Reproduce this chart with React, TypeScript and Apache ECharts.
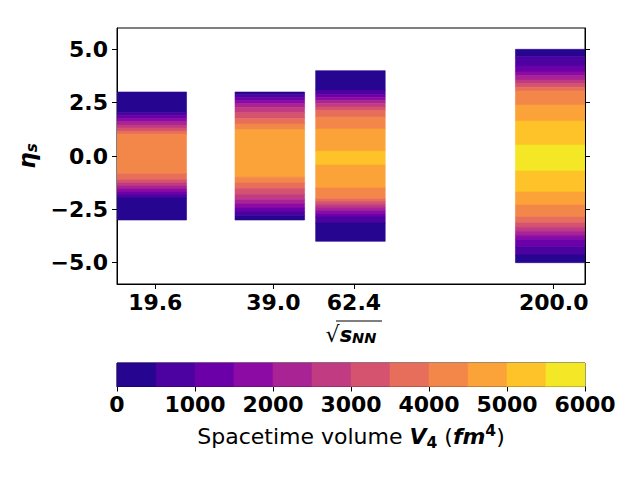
import React, { useEffect, useRef } from "react";
import * as echarts from "echarts";

// Collision energies (GeV) and their tick labels
const energies = [19.6, 39.0, 62.4, 200.0];
const energyLabels = ["19.6", "39.0", "62.4", "200.0"];

// eta_s tick values
const etaTicks = [-5, -2.5, 0, 2.5, 5];

// Colour levels of V4 (fm^4)
const v4Edges = [0, 500, 1000, 1500, 2000, 2500, 3000, 3500, 4000, 4500, 5000, 5500, 6000];
const v4Ticks = [0, 1000, 2000, 3000, 4000, 5000, 6000];
const plasmaColors = [
  "#260591", "#4c02a1", "#6c00a8", "#8d0ba5", "#a92395", "#c13b82",
  "#d5536f", "#e76e5b", "#f3874a", "#fba338", "#fdc328", "#f4e826",
];

// Band edges in eta_s (top to bottom) and the V4 level index of each band
const edges19 = [3.0, 2.03, 1.89, 1.75, 1.61, 1.45, 1.31, 1.17, 1.03, -0.84, -1.12, -1.27, -1.41, -1.55, -1.69, -1.83, -1.97, -3.0];
const levels19 = [0, 1, 2, 3, 4, 5, 6, 7, 8, 7, 6, 5, 4, 3, 2, 1, 0];

const edges39 = [3.0, 2.87, 2.74, 2.6, 2.45, 2.28, 2.03, 1.76, 1.5, 1.23, -1.0, -1.27, -1.52, -1.8, -2.05, -2.25, -2.44, -2.62, -2.8, -3.0];
const levels39 = [0, 1, 2, 3, 4, 5, 6, 7, 8, 9, 8, 7, 6, 5, 4, 3, 2, 1, 0];

const edges62 = [4.0, 3.09, 2.88, 2.75, 2.61, 2.47, 2.3, 2.13, 1.83, 1.27, 0.23, -0.42, -1.5, -2.0, -2.13, -2.27, -2.41, -2.56, -2.7, -2.86, -3.14, -4.0];
const levels62 = [0, 1, 2, 3, 4, 5, 6, 7, 8, 9, 10, 9, 8, 7, 6, 5, 4, 3, 2, 1, 0];

const edges200 = [5.0, 4.65, 4.22, 3.94, 3.76, 3.56, 3.39, 3.22, 3.05, 2.39, 1.64, 0.52, -0.7, -1.69, -2.3, -2.85, -3.13, -3.34, -3.53, -3.72, -3.9, -4.25, -4.64, -5.0];
const levels200 = [0, 1, 2, 3, 4, 5, 6, 7, 8, 9, 10, 11, 10, 9, 8, 7, 6, 5, 4, 3, 2, 1, 0];

const columns = [
  { e: energies[0], edges: edges19, levels: levels19 },
  { e: energies[1], edges: edges39, levels: levels39 },
  { e: energies[2], edges: edges62, levels: levels62 },
  { e: energies[3], edges: edges200, levels: levels200 },
];

const LO = 0.8;
const HI = 1.2;
const FONT = "DejaVu Sans";
const lg = (v: number) => Math.log10(v);

export default function App() {
  const ref = useRef<HTMLDivElement>(null);
  useEffect(() => {
    if (!ref.current) return;
    const chart = echarts.init(ref.current, null, { renderer: "svg" });

    const bandData: number[][] = [];
    columns.forEach((c) => {
      c.levels.forEach((lv, i) => {
        bandData.push([lg(c.e * LO), lg(c.e * HI), c.edges[i], c.edges[i + 1], lv]);
      });
    });
    const cbData: number[][] = [];
    for (let i = 0; i < v4Edges.length - 1; i++) cbData.push([v4Edges[i], v4Edges[i + 1], i]);

    const rectItem = (params: any, api: any) => {
      const a = api.coord([api.value(0), api.value(2)]);
      const b = api.coord([api.value(1), api.value(3)]);
      const color = plasmaColors[api.value(4)];
      return {
        type: "rect",
        shape: { x: a[0], y: a[1], width: b[0] - a[0], height: b[1] - a[1] },
        style: { fill: color, stroke: color, lineWidth: 0.6 },
      };
    };

    const tickLabel = { fontFamily: FONT, fontSize: 22, fontWeight: "bold", color: "#000" };
    const axisLine = { show: true, onZero: false, lineStyle: { color: "#000", width: 1 } };

    const energyLogs = energies.map(lg);
    const fmtEnergy = (v: number) => {
      let best = 0;
      energyLogs.forEach((l, i) => {
        if (Math.abs(l - v) < Math.abs(energyLogs[best] - v)) best = i;
      });
      return energyLabels[best];
    };
    const fmtEta = (v: number) => (v < 0 ? "\u2212" : "") + Math.abs(v).toFixed(1);

    chart.setOption({
      animation: false,
      backgroundColor: "#fff",
      grid: [
        { left: 117, top: 28, width: 468, height: 256, show: true, borderColor: "#000", borderWidth: 1, backgroundColor: "transparent" },
        { left: 117, top: 363, width: 468, height: 23.5, show: true, borderColor: "#000", borderWidth: 1, backgroundColor: "transparent" },
      ],
      xAxis: [
        {
          type: "value",
          gridIndex: 0,
          min: lg(energies[0] * LO),
          max: lg(energies[energies.length - 1] * HI),
          axisLine,
          splitLine: { show: false },
          axisTick: { show: true, customValues: energyLogs, length: 5, lineStyle: { color: "#000", width: 1 } },
          axisLabel: { ...tickLabel, customValues: energyLogs, formatter: fmtEnergy, margin: 7 },
          name: "{r|\u221A}{s|s}{n|NN}",
          nameLocation: "middle",
          nameGap: 35,
          nameTextStyle: {
            rich: {
              r: { fontFamily: FONT, fontSize: 22, color: "#000", lineHeight: 26, verticalAlign: "bottom" },
              s: { fontFamily: FONT, fontSize: 21, fontWeight: "bold", fontStyle: "italic", color: "#000", lineHeight: 26, verticalAlign: "bottom" },
              n: { fontFamily: FONT, fontSize: 14.5, fontWeight: "bold", fontStyle: "italic", color: "#000", lineHeight: 20, verticalAlign: "bottom" },
            },
          },
        },
        {
          type: "value",
          gridIndex: 1,
          min: 0,
          max: 6000,
          interval: 1000,
          axisLine,
          splitLine: { show: false },
          axisTick: { show: true, customValues: v4Ticks, length: 5, lineStyle: { color: "#000", width: 1 } },
          axisLabel: { ...tickLabel, customValues: v4Ticks, formatter: (v: number) => String(v), margin: 7 },
          name: "{t|Spacetime volume }{v|V}{vs|4}{t| (}{f|fm}{fs|4}{t|)}",
          nameLocation: "middle",
          nameGap: 36,
          nameTextStyle: {
            rich: {
              t: { fontFamily: FONT, fontSize: 22, color: "#000", lineHeight: 28 },
              v: { fontFamily: FONT, fontSize: 22, fontWeight: "bold", fontStyle: "italic", color: "#000", lineHeight: 28 },
              vs: { fontFamily: FONT, fontSize: 15.5, fontWeight: "bold", color: "#000", lineHeight: 22, verticalAlign: "bottom" },
              f: { fontFamily: FONT, fontSize: 22, fontWeight: "bold", fontStyle: "italic", color: "#000", lineHeight: 28 },
              fs: { fontFamily: FONT, fontSize: 15.5, fontWeight: "bold", color: "#000", lineHeight: 22, verticalAlign: "top" },
            },
          },
        },
      ],
      yAxis: [
        {
          type: "value",
          gridIndex: 0,
          min: -6,
          max: 6,
          axisLine,
          splitLine: { show: false },
          axisTick: { show: true, customValues: etaTicks, length: 5, lineStyle: { color: "#000", width: 1 } },
          axisLabel: { ...tickLabel, customValues: etaTicks, formatter: fmtEta, margin: 9 },
          name: "{e|\u03B7}{s|s}",
          nameLocation: "middle",
          nameRotate: 90,
          nameGap: 74,
          nameTextStyle: {
            rich: {
              e: { fontFamily: FONT, fontSize: 23, fontWeight: "bold", fontStyle: "italic", color: "#000", lineHeight: 26, verticalAlign: "middle" },
              s: { fontFamily: FONT, fontSize: 15, fontWeight: "bold", fontStyle: "italic", color: "#000", lineHeight: 26, verticalAlign: "bottom" },
            },
          },
        },
        {
          type: "value",
          gridIndex: 0,
          position: "right",
          min: -6,
          max: 6,
          axisLine,
          splitLine: { show: false },
          axisTick: { show: true, customValues: etaTicks, length: 5, lineStyle: { color: "#000", width: 1 } },
          axisLabel: { show: false },
        },
        { type: "value", gridIndex: 1, min: 0, max: 1, show: false },
      ],
      graphic: [
        { type: "line", shape: { x1: 336, y1: 321, x2: 382, y2: 321 }, style: { stroke: "#000", lineWidth: 1.2 }, z: 100 },
      ],
      series: [
        {
          type: "custom",
          xAxisIndex: 0,
          yAxisIndex: 0,
          renderItem: rectItem,
          encode: { x: [0, 1], y: [2, 3] },
          data: bandData,
          clip: true,
        },
        {
          type: "custom",
          xAxisIndex: 1,
          yAxisIndex: 2,
          renderItem: (params: any, api: any) => {
            const a = api.coord([api.value(0), 1]);
            const b = api.coord([api.value(1), 0]);
            const color = plasmaColors[api.value(2)];
            return {
              type: "rect",
              shape: { x: a[0], y: a[1], width: b[0] - a[0], height: b[1] - a[1] },
              style: { fill: color, stroke: color, lineWidth: 0.6 },
            };
          },
          encode: { x: [0, 1] },
          data: cbData,
        },
      ],
    });
    return () => chart.dispose();
  }, []);
  return <div ref={ref} style={{ position: "fixed", left: 0, top: 0, width: 640, height: 480, background: "#fff" }} />;
}
